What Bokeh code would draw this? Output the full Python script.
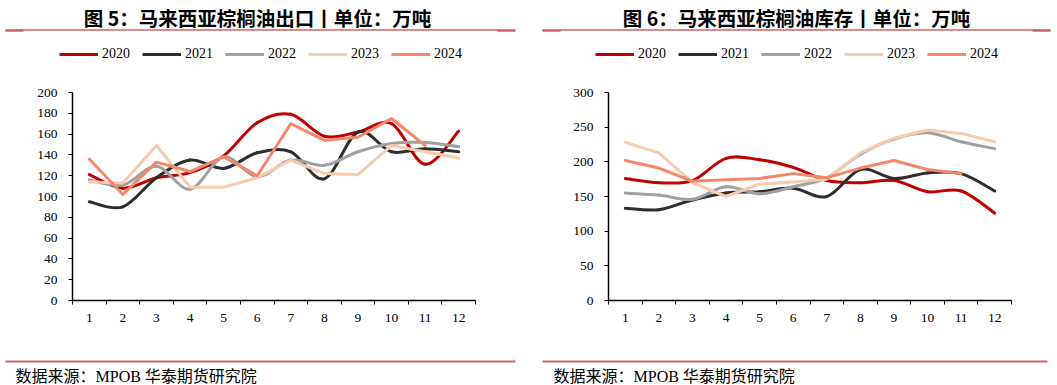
from bokeh.plotting import figure
from bokeh.layouts import row, column
from bokeh.models import Range1d, FixedTicker, Legend, LegendItem
from bokeh.core.properties import value
from bokeh.embed import file_html
from bokeh.resources import INLINE

months = list(range(1, 13))
years = ["2020", "2021", "2022", "2023", "2024"]
colors = ["#C00000", "#2E2E2E", "#A0A0A0", "#F8CBAD", "#F4886A"]
smooth = [True, True, True, False, False]

export_2020 = [121, 108, 118, 123, 139, 171, 179, 158, 162, 170, 131, 163]
export_2021 = [95, 90, 118, 135, 127, 142, 143, 117, 162, 143, 146, 143]
export_2022 = [116, 111, 129, 107, 138, 119, 135, 130, 143, 151, 152, 148]
export_2023 = [114, 113, 149, 109, 109, 118, 135, 122, 121, 149, 143, 137]
export_2024 = [136, 102, 133, 124, 138, 120, 170, 154, 157, 175, 149]

stock_2020 = [176, 170, 173, 205, 203, 192, 173, 170, 173, 157, 158, 126]
stock_2021 = [133, 131, 145, 155, 157, 162, 150, 189, 176, 184, 183, 158]
stock_2022 = [155, 152, 146, 164, 154, 164, 177, 211, 233, 242, 229, 219]
stock_2023 = [228, 213, 170, 150, 168, 171, 175, 213, 234, 246, 241, 229]
stock_2024 = [202, 191, 172, 174, 176, 183, 177, 191, 202, 189, 183]

titles = ["图 5：马来西亚棕榈油出口丨单位：万吨", "图 6：马来西亚棕榈油库存丨单位：万吨"]
source_text = "数据来源：MPOB  华泰期货研究院"

SERIF = "Liberation Serif"
CJK = "Noto Sans CJK SC"
RULE = "#CC6464"
W, H = 1057, 385
HEAD_H, CHART_H = 84, 248
FOOT_H = H - HEAD_H - CHART_H


def bezier_parts(xs, ys):
    n = len(xs)
    out = dict(x0=[], y0=[], x1=[], y1=[], cx0=[], cy0=[], cx1=[], cy1=[])
    for i in range(n - 1):
        xp, yp = (xs[i - 1], ys[i - 1]) if i > 0 else (xs[i], ys[i])
        xn, yn = (xs[i + 2], ys[i + 2]) if i + 2 < n else (xs[i + 1], ys[i + 1])
        out["x0"].append(xs[i]); out["y0"].append(ys[i])
        out["x1"].append(xs[i + 1]); out["y1"].append(ys[i + 1])
        out["cx0"].append(xs[i] + (xs[i + 1] - xp) / 6)
        out["cy0"].append(ys[i] + (ys[i + 1] - yp) / 6)
        out["cx1"].append(xs[i + 1] - (xn - xs[i]) / 6)
        out["cy1"].append(ys[i + 1] - (yn - ys[i]) / 6)
    return out


def blank(width, height):
    f = figure(width=width, height=height, output_backend="svg",
               toolbar_location=None, x_range=Range1d(0, width),
               y_range=Range1d(height, 0), x_axis_type=None, y_axis_type=None,
               min_border=0)
    f.outline_line_color = None
    f.grid.visible = False
    return f


def make_chart(width, left, right, ymax, ystep, series):
    p = figure(width=width, height=CHART_H, output_backend="svg",
               toolbar_location=None, x_range=Range1d(0.5, 12.5),
               y_range=Range1d(0, ymax), min_border_left=left,
               min_border_right=right, min_border_top=8,
               min_border_bottom=32)
    p.outline_line_color = None
    p.grid.visible = False

    xa = p.xaxis[0]
    xa.ticker = FixedTicker(ticks=months, minor_ticks=[m + 0.5 for m in range(0, 13)])
    xa.major_tick_out = 0
    xa.major_tick_in = 0
    xa.minor_tick_out = 4
    xa.minor_tick_in = 0
    xa.minor_tick_line_color = "black"
    xa.axis_line_color = "black"
    xa.axis_line_width = 1.5
    xa.major_label_standoff = 9
    xa.major_label_text_font = SERIF
    xa.major_label_text_font_size = "13.5px"
    xa.major_label_text_color = "black"

    ya = p.yaxis[0]
    ya.ticker = FixedTicker(ticks=list(range(0, ymax + 1, ystep)))
    ya.minor_tick_line_color = None
    ya.major_tick_out = 4
    ya.major_tick_in = 0
    ya.major_tick_line_color = "black"
    ya.axis_line_color = "black"
    ya.axis_line_width = 1.5
    ya.major_label_standoff = 11
    ya.major_label_text_font = SERIF
    ya.major_label_text_font_size = "13.5px"
    ya.major_label_text_color = "black"

    for vals, col, sm in zip(series, colors, smooth):
        xs = months[:len(vals)]
        if sm:
            p.bezier(source=bezier_parts(xs, vals), x0="x0", y0="y0", x1="x1",
                     y1="y1", cx0="cx0", cy0="cy0", cx1="cx1", cy1="cy1",
                     line_color=col, line_width=3, line_cap="round")
        else:
            p.line(xs, vals, line_color=col, line_width=3,
                   line_join="round", line_cap="round")
    return p


left_series = [export_2020, export_2021, export_2022, export_2023, export_2024]
right_series = [stock_2020, stock_2021, stock_2022, stock_2023, stock_2024]

p1 = make_chart(530, 72, 55, 200, 20, left_series)
p2 = make_chart(527, 78, 46, 300, 50, right_series)

# ---- header: titles, rules, legends
head = blank(W, HEAD_H)
head.text(x=[257, 796], y=[17, 17], text=titles, text_font=value(CJK),
          text_font_style="bold", text_font_size="19.5px", text_align="center",
          text_baseline="middle", text_color="black")
head.segment(x0=[5, 542], y0=[29.5, 29.5], x1=[515, 1050], y1=[29.5, 29.5],
             line_color=RULE, line_width=1.5)
head.segment(x0=[5, 497, 542, 1032], y0=[30.3] * 4, x1=[23, 515, 560, 1050],
             y1=[30.3] * 4, line_color=RULE, line_width=2)

for lx in (59, 595):
    items = []
    for yr, col in zip(years, colors):
        # legend swatch renderers: kept off-canvas, only their legend glyph shows
        r = head.line(x=[-50, -40], y=[-50, -50], line_color=col, line_width=3)
        items.append(LegendItem(label=yr, renderers=[r]))
    leg = Legend(items=items, orientation="horizontal", location=(lx, 22),
                 glyph_width=39, glyph_height=14, label_height=14,
                 label_standoff=4, spacing=12, padding=0, margin=0,
                 border_line_color=None, background_fill_alpha=0,
                 label_text_font=SERIF, label_text_font_size="14px",
                 label_text_color="black", label_text_baseline="middle")
    head.add_layout(leg, "center")

# ---- footer: rules and source notes
foot = blank(W, FOOT_H)
foot.segment(x0=[5, 542], y0=[29, 29], x1=[515, 1047], y1=[29, 29],
             line_color=RULE, line_width=2)
foot.text(x=[15, 553], y=[44, 44], text=[source_text, source_text],
          text_font=value(SERIF + ", " + CJK), text_font_size="16px",
          text_align="left", text_baseline="middle", text_color="black")

layout = column(head, row(p1, p2, spacing=0), foot, spacing=0)
open("out.html", "w").write(file_html(layout, INLINE))
